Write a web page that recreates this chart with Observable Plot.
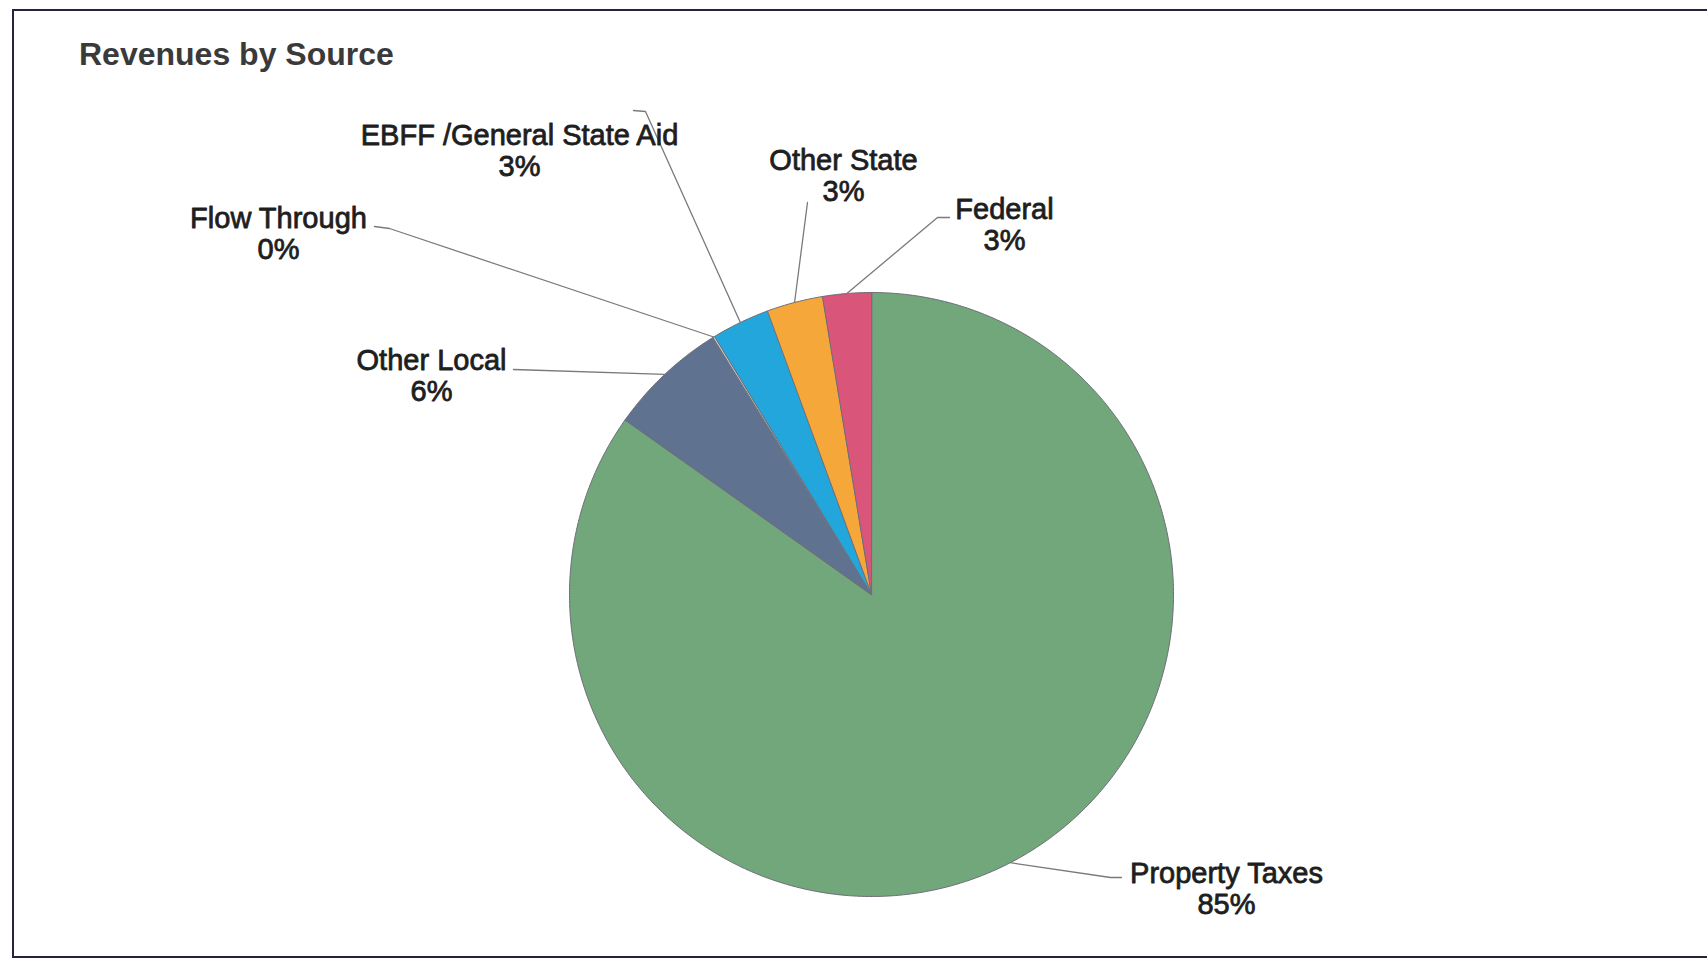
<!DOCTYPE html>
<html><head><meta charset="utf-8">
<script src="https://cdn.jsdelivr.net/npm/d3@7"></script>
<script src="https://cdn.jsdelivr.net/npm/@observablehq/plot@0.6"></script>
<style>
html,body{margin:0;padding:0;background:#fff;overflow:hidden;width:1707px;height:966px}
#wrap{position:relative;width:1707px;height:966px}
#frame{position:absolute;left:12px;top:9px;width:1730px;height:949px;border:2px solid #23253a;box-sizing:border-box}
#title{position:absolute;left:79px;top:38px;font:bold 32px/1 "Liberation Sans",Arial,sans-serif;color:#3a3a3a;margin:0;white-space:nowrap}
#chart{position:absolute;left:0;top:0}
</style></head><body>
<div id="wrap"><div id="frame"></div><div id="chart"></div><div id="title">Revenues by Source</div></div>
<script>
// ---- data ----
const categories = ["Property Taxes", "Other Local", "Flow Through", "EBFF /General State Aid", "Other State", "Federal"];
const shares = [84.8, 6.4, 0.1, 3.1, 3.0, 2.6];
const sliceColors = ["#72a67b", "#5f7290", "#d8c9cc", "#22a6dc", "#f6a73a", "#d9557a"];

// ---- layout (pixels) ----
const W = 1707, H = 966, cx = 871, cy = 594, R = 302;
// label anchor (center, first-line baseline) and leader-line bend/end points
const labelLayout = [
  {tx: 1226, ty: 882, bend: [1110, 877], end: [1121, 877]},
  {tx: 431, ty: 369, bend: null, end: [513, 369]},
  {tx: 278, ty: 227, bend: [389, 228], end: [374, 226]},
  {tx: 519, ty: 144, bend: [645, 111], end: [633, 110]},
  {tx: 843, ty: 169, bend: null, end: [807, 202]},
  {tx: 1004, ty: 218, bend: [937, 217], end: [949, 217]}
];

const total = d3.sum(shares);
const arcs = d3.pie().sort(null).value(d => d)(shares);
const pt = (a, r) => [cx + r * Math.sin(a), cy - r * Math.cos(a)];

const slicePts = [];
arcs.forEach((a, i) => {
  const n = Math.max(2, Math.ceil((a.endAngle - a.startAngle) / (Math.PI / 360)));
  slicePts.push({cat: categories[i], x: cx, y: cy});
  for (let k = 0; k <= n; k++) {
    const [x, y] = pt(a.startAngle + (a.endAngle - a.startAngle) * k / n, R);
    slicePts.push({cat: categories[i], x, y});
  }
});

const leaderPts = [];
const labels = [];
arcs.forEach((a, i) => {
  const L = labelLayout[i];
  const [ex, ey] = pt((a.startAngle + a.endAngle) / 2, R);
  leaderPts.push({cat: categories[i], x: ex, y: ey});
  if (L.bend) leaderPts.push({cat: categories[i], x: L.bend[0], y: L.bend[1]});
  leaderPts.push({cat: categories[i], x: L.end[0], y: L.end[1]});
  labels.push({name: categories[i], pct: Math.round(shares[i] / total * 100) + "%", x: L.tx, y: L.ty});
});

const labelFont = {fontSize: 29, fill: "#1e1e1e", stroke: "#1e1e1e", strokeWidth: 0.8, lineAnchor: "bottom", textAnchor: "middle"};

const chart = Plot.plot({
  width: W, height: H, margin: 0,
  x: {type: "linear", domain: [0, W], range: [0, W], axis: null},
  y: {type: "linear", domain: [0, H], range: [0, H], axis: null},
  color: {domain: categories, range: sliceColors},
  style: {background: "transparent", fontFamily: "'Liberation Sans', Arial, sans-serif", overflow: "visible"},
  marks: [
    Plot.line(slicePts, {x: "x", y: "y", z: "cat", fill: "cat", stroke: "#6e6e78", strokeWidth: 1, curve: "linear-closed"}),
    Plot.line(leaderPts, {x: "x", y: "y", z: "cat", stroke: "#7a7a7a", strokeWidth: 1.3}),
    Plot.text(labels, {x: "x", y: "y", text: "name", ...labelFont}),
    Plot.text(labels, {x: "x", y: d => d.y + 31, text: "pct", ...labelFont})
  ]
});
document.getElementById("chart").appendChild(chart);
</script>
</body></html>
